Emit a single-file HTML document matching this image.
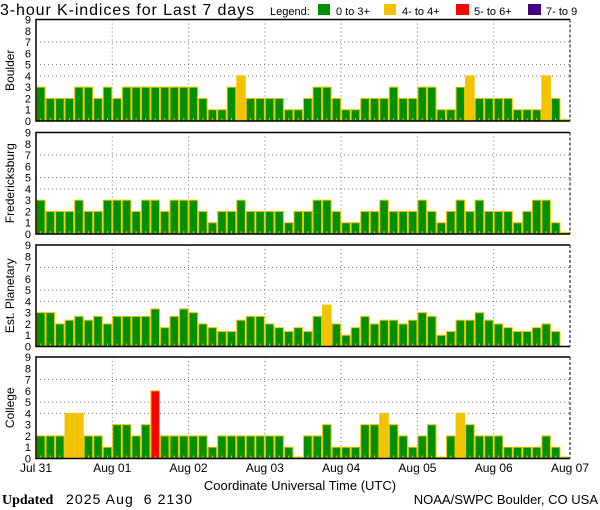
<!DOCTYPE html>
<html><head><meta charset="utf-8"><style>
html,body{margin:0;padding:0;background:#fff;}
svg{display:block;font-family:"Liberation Sans",sans-serif;}
</style></head><body>
<svg id="s" width="600" height="510" viewBox="0 0 600 510" xmlns="http://www.w3.org/2000/svg">
<text x="0" y="15" font-size="16" textLength="254" lengthAdjust="spacing">3-hour K-indices for Last 7 days</text>
<text x="270" y="15" font-size="11">Legend:</text>
<rect x="318" y="4" width="12" height="11" fill="#009000"/><text x="336" y="15" font-size="11">0 to 3+</text>
<rect x="384" y="4" width="12" height="11" fill="#f2c300"/><text x="402" y="15" font-size="11">4- to 4+</text>
<rect x="456" y="4" width="13" height="11" fill="#ff0000"/><text x="474" y="15" font-size="11">5- to 6+</text>
<rect x="528" y="4" width="13" height="11" fill="#400080"/><text x="546" y="15" font-size="11">7- to 9</text>
<text x="300" y="490" font-size="13" text-anchor="middle">Coordinate Universal Time (UTC)</text>
<text x="2" y="504" font-size="14" font-family="Liberation Serif,serif" font-weight="bold">Updated</text>
<text x="66" y="504" font-size="14" textLength="126" lengthAdjust="spacing" xml:space="preserve">2025 Aug  6 2130</text>
<text x="598" y="504" font-size="13" text-anchor="end">NOAA/SWPC Boulder, CO USA</text>
</svg>
<script>
var D=[
[3,2,2,2,3,3,2,3, 2,3,3,3,3,3,3,3, 3,2,1,1,3,4,2,2, 2,2,1,1,2,3,3,2, 1,1,2,2,2,3,2,2, 3,3,1,1,3,4,2,2, 2,2,1,1,1,4,2,0],
[3,2,2,2,3,2,2,3, 3,3,2,3,3,2,3,3, 3,2,1,2,2,3,2,2, 2,2,1,2,2,3,3,2, 1,1,2,2,3,2,2,2, 3,2,1,2,3,2,3,2, 2,2,1,2,3,3,1,0],
[3,3,2,2.33,2.67,2.33,2.67,2, 2.67,2.67,2.67,2.67,3.33,1.67,2.67,3.33, 3,2,1.67,1.33,1.33,2.33,2.67,2.67, 2,1.67,1.33,1.67,1.33,2.67,3.67,2, 1,1.67,2.67,2,2.33,2.33,2,2.33, 3,2.67,1,1.33,2.33,2.33,3,2.33, 2,1.67,1.33,1.33,1.67,2,1.33,null],
[2,2,2,4,4,2,2,1, 3,3,2,3,6,2,2,2, 2,2,1,2,2,2,2,2, 2,2,1,0,2,2,3,1, 1,1,3,3,4,3,2,1, 2,3,0,2,4,3,2,2, 2,1,1,1,1,2,1,0]];
var names=["Boulder","Fredericksburg","Est. Planetary","College"];
var tops=[19.5,132.5,245,357],H=101.5,X0=36,W=534,bw=W/56,u=H/9;
var s='';
for(var p=0;p<4;p++){
 var t=tops[p],b=t+H;
 [4,5,7].forEach(function(k){var y=b-k*u;s+='<line x1="'+X0+'" x2="'+(X0+W)+'" y1="'+y+'" y2="'+y+'" stroke="#777" stroke-width="1" stroke-dasharray="1,3"/>';});
 for(var d=1;d<7;d++){var x=X0+d*8*bw;s+='<line x1="'+x+'" x2="'+x+'" y1="'+t+'" y2="'+b+'" stroke="#777" stroke-width="1" stroke-dasharray="1,3"/>';}
 for(var i=0;i<56;i++){
  var v=D[p][i];if(v===null)continue;
  var vv=v===0?0.12:v;
  var col=v>=7?"#400080":v>=5?"#ff0000":v>=3.5?"#f2c300":"#009000";
  var x=X0+i*bw,h=vv*u;
  s+='<rect x="'+(x+0.5)+'" y="'+(b-h)+'" width="'+(bw-1)+'" height="'+h+'" fill="'+col+'" stroke="#f2c300" stroke-width="1"/>';
  s+='<line x1="'+(x+bw/2)+'" x2="'+(x+bw/2)+'" y1="'+(b-3)+'" y2="'+b+'" stroke="#f2c300" stroke-width="1"/>';
 }
 s+='<polyline points="'+(X0+W)+','+t+' '+X0+','+t+' '+X0+','+b+' '+(X0+W)+','+b+'" fill="none" stroke="#000" stroke-width="1.5"/>';
 s+='<line x1="'+(X0+W)+'" x2="'+(X0+W)+'" y1="'+t+'" y2="'+b+'" stroke="#000" stroke-width="1" stroke-dasharray="3,2"/>';
 for(var k=0;k<=9;k++){s+='<text x="31" y="'+(b-k*u+4)+'" font-size="11" text-anchor="end">'+k+'</text>';}
 var cy=t+H/2;
 s+='<text transform="translate(14,'+cy+') rotate(-90)" font-size="12" text-anchor="middle">'+names[p]+'</text>';
}
var lab=["Jul 31","Aug 01","Aug 02","Aug 03","Aug 04","Aug 05","Aug 06","Aug 07"];
for(var d=0;d<8;d++){s+='<text x="'+(X0+d*8*bw)+'" y="472" font-size="12" text-anchor="middle">'+lab[d]+'</text>';}
document.getElementById('s').insertAdjacentHTML('beforeend',s);
</script>
</body></html>
